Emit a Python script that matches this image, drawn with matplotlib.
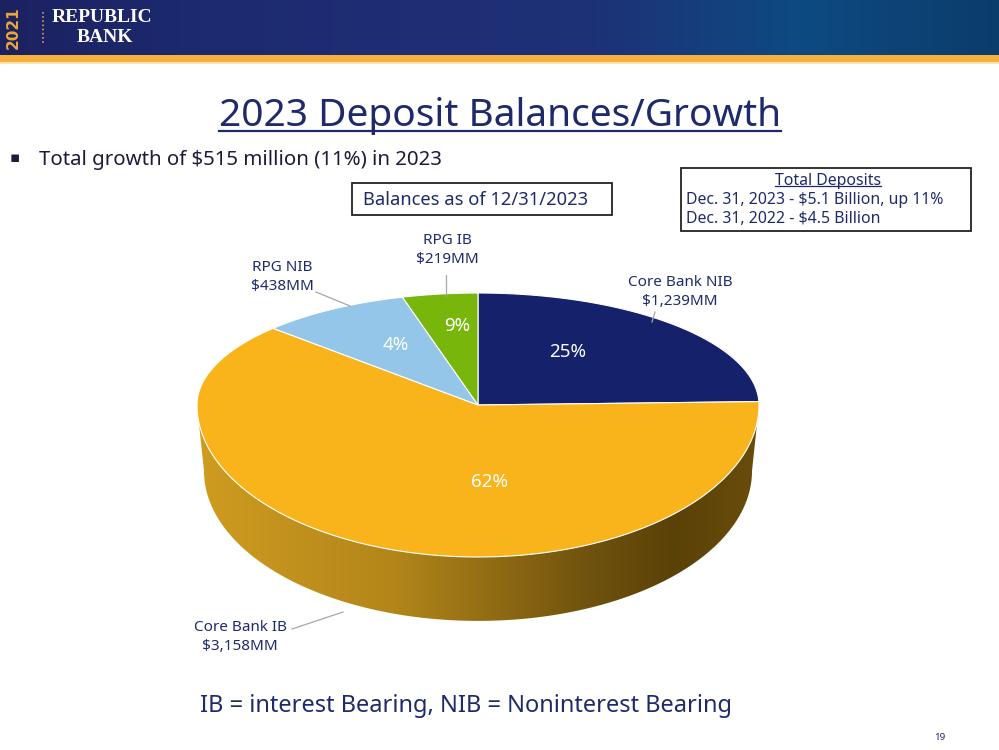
import numpy as np
import matplotlib
matplotlib.use("Agg")
import matplotlib.pyplot as plt
from matplotlib.patches import Polygon, Rectangle
from matplotlib.colors import LinearSegmentedColormap

plt.rcParams['font.family'] = ['Noto Sans', 'DejaVu Sans']

# data
segments = ['Core Bank NIB', 'Core Bank IB', 'RPG NIB', 'RPG IB']
balances = [1239, 3158, 438, 219]
balance_labels = ['$1,239MM', '$3,158MM', '$438MM', '$219MM']
pct_labels = ['25%', '62%', '4%', '9%']   # as printed on the slide
colors = ['#16216b', '#f9b31b', '#93c6e8', '#78b60c']

# layout (pixels)
W, H = 999, 750
cx, cy = 478, 405
rx, ry_top, ry_bot = 281, 112, 152
depth = 66
pct_pos = [(568, 352), (490, 482), (396, 345), (457, 326)]
name_pos = [(680, 292, 'center'), (240, 637, 'center'), (282, 277, 'center'), (447, 250, 'center')]
leaders = [[(655, 312), (652, 322)], [(292, 629), (343, 612)],
           [(316, 292), (350, 306)], [(446, 275), (446, 296)]]
navy = '#1f2a6b'

fig = plt.figure(figsize=(W / 100, H / 100), dpi=100)
ax = fig.add_axes([0, 0, 1, 1])
ax.set_xlim(0, W)
ax.set_ylim(H, 0)
ax.axis('off')

# header band
hdr = LinearSegmentedColormap.from_list('hdr', ['#1c2160', '#1d2a70', '#1f2d74', '#1d3278', '#0e4a82', '#0b3d6c'])
ax.imshow(np.linspace(0, 1, 256)[None, :], cmap=hdr, extent=[0, W, 55, 0], aspect='auto', zorder=0)
ax.add_patch(Rectangle((0, 55), W, 7, color='#f6b03e', lw=0, zorder=1))
ax.add_patch(Rectangle((0, 62), W, 2, color='#fde3b0', lw=0, zorder=1))
ax.text(13, 28, '2021', rotation=90, color='#eaa73a', fontsize=11, fontweight='bold',
        family='DejaVu Sans', ha='center', va='center', zorder=2)
ax.plot([43, 43], [12, 44], color='#c9a25a', lw=1.2, ls=(0, (1, 1.5)), zorder=2)
ax.text(102, 17, 'REPUBLIC', family='Liberation Serif', color='white', fontsize=14,
        fontweight='bold', ha='center', va='center', zorder=2)
ax.text(105, 37, 'BANK', family='Liberation Serif', color='white', fontsize=14,
        fontweight='bold', ha='center', va='center', zorder=2)

# title
title = ax.text(500, 116, '2023 Deposit Balances/Growth', color=navy, fontsize=28,
                ha='center', va='center')
ax.text(15, 159, '\u25aa', fontsize=11, color='#1c1c3a', ha='center', va='center')
ax.text(39, 160, 'Total growth of $515 million (11%) in 2023', fontsize=14.7,
        color='#1c1c3a', ha='left', va='center')

# boxes
ax.add_patch(Rectangle((352, 183), 260, 32, fill=False, ec='#222222', lw=1.3))
ax.text(476, 200, 'Balances as of 12/31/2023', fontsize=13.2, color=navy, ha='center', va='center')
ax.add_patch(Rectangle((681, 168), 290, 63, fill=False, ec='#222222', lw=1.3))
td = ax.text(828, 181, 'Total Deposits', fontsize=11.4, color=navy, ha='center', va='center')
ax.text(686, 200, 'Dec. 31, 2023 - $5.1 Billion, up 11%', fontsize=11.4, color=navy, ha='left', va='center')
ax.text(686, 219, 'Dec. 31, 2022 - $4.5 Billion', fontsize=11.4, color=navy, ha='left', va='center')


def proj(theta, dz=0.0, shrink=0.0):
    t = np.radians(theta)
    s = np.sin(t)
    ry = np.where(s > 0, ry_top, ry_bot - shrink * 0.3)
    return cx + (rx - shrink) * np.cos(t), cy - ry * s + dz


# side wall (front half)
th = np.linspace(0, -180, 200)
xt, yt = proj(th)
xb, yb = proj(th[::-1], depth, 7)
side = Polygon(np.column_stack([np.r_[xt, xb], np.r_[yt, yb]]), closed=True,
               fc='none', ec='none')
ax.add_patch(side)
side_cmap = LinearSegmentedColormap.from_list(
    'side', [(0, '#cf9c20'), (0.35, '#b3861a'), (0.7, '#6f520e'), (0.85, '#5a4107'), (1, '#6a4d0c')])
im = ax.imshow(np.linspace(0, 1, 256)[None, :], cmap=side_cmap,
               extent=[cx - rx, cx + rx, cy + ry_bot + depth + 5, cy - 5], aspect='auto', zorder=2)
im.set_clip_path(side)

# top face
fracs = np.array(balances) / sum(balances)
start = 90.0
for i, f in enumerate(fracs):
    end = start - f * 360
    a = np.linspace(start, end, 200)
    px, py = proj(a)
    poly = Polygon(np.column_stack([np.r_[cx, px], np.r_[cy, py]]), closed=True,
                   fc=colors[i], ec='white', lw=0.8, zorder=3)
    ax.add_patch(poly)
    start = end

for i in range(len(segments)):
    ax.text(pct_pos[i][0], pct_pos[i][1], pct_labels[i], color='white', fontsize=13.5,
            ha='center', va='center', zorder=4)
    x, y, ha = name_pos[i]
    ax.text(x, y, segments[i] + '\n' + balance_labels[i], color=navy, fontsize=11,
            ha=ha, va='center', linespacing=1.35, zorder=4)
    (x0, y0), (x1, y1) = leaders[i]
    ax.plot([x0, x1], [y0, y1], color='#a6a6a6', lw=0.9, zorder=4)

ax.text(466, 706, 'IB = interest Bearing, NIB = Noninterest Bearing', color=navy,
        fontsize=17, ha='center', va='center')
ax.text(940, 737, '19', color=navy, fontsize=7, ha='center', va='center')

# underlines
fig.canvas.draw()
inv = ax.transData.inverted()
for t, off, lw in [(title, 4, 1.6), (td, 3, 0.9)]:
    bb = t.get_window_extent()
    (x0, y0), (x1, y1) = inv.transform([[bb.x0, bb.y0], [bb.x1, bb.y1]])
    ax.plot([x0, x1], [y0 - off, y0 - off], color=navy, lw=lw)

fig.savefig('out.png', dpi=100)
